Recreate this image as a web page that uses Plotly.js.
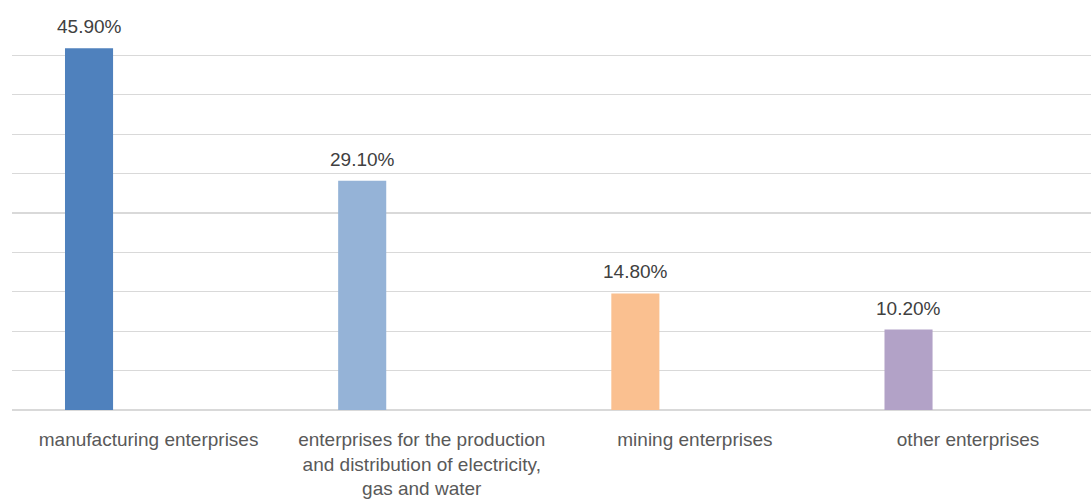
<!DOCTYPE html>
<html>
<head>
<meta charset="utf-8">
<script src="https://cdn.plot.ly/plotly-3.0.1.min.js"></script>
<style>html,body{margin:0;padding:0;background:#fff;}#chart{width:1091px;height:504px;}</style>
</head>
<body>
<div id="chart"></div>
<script>
const categories = [
  "manufacturing enterprises",
  "enterprises for the production<br>and distribution of electricity,<br>gas and water",
  "mining enterprises",
  "other enterprises"
];
const values = [45.9, 29.1, 14.8, 10.2];
const labels = ["45.90%", "29.10%", "14.80%", "10.20%"];
const colors = ["#4F81BD", "#95B3D7", "#FAC090", "#B2A2C7"];

const barWidth = 0.176;
const barShift = -0.218;

const trace = {
  type: "bar",
  x: categories,
  y: values,
  width: barWidth,
  offset: barShift - barWidth / 2,
  marker: {color: colors},
  hoverinfo: "none"
};

const annotations = values.map((v, i) => ({
  x: i + barShift,
  y: v,
  xref: "x",
  yref: "y",
  text: labels[i],
  showarrow: false,
  yanchor: "bottom",
  yshift: 9,
  font: {family: "Liberation Sans, Arial, sans-serif", size: 19, color: "#404040"}
}));

const layout = {
  width: 1091,
  height: 504,
  margin: {l: 12, r: 0, t: 16, b: 94},
  paper_bgcolor: "#ffffff",
  plot_bgcolor: "#ffffff",
  showlegend: false,
  xaxis: {
    type: "category",
    range: [-0.5, 3.45],
    showgrid: false,
    showline: false,
    zeroline: false,
    ticks: "outside",
    ticklen: 12,
    tickcolor: "rgba(0,0,0,0)",
    tickfont: {family: "Liberation Sans, Arial, sans-serif", size: 19, color: "#595959"}
  },
  yaxis: {
    range: [0, 50],
    dtick: 5,
    showticklabels: false,
    showgrid: true,
    gridcolor: "#d9d9d9",
    gridwidth: 1.3,
    zeroline: true,
    zerolinecolor: "#d9d9d9",
    zerolinewidth: 1.3,
    showline: false,
    ticks: ""
  },
  annotations: annotations
};

Plotly.newPlot("chart", [trace], layout, {staticPlot: true, displayModeBar: false});
</script>
</body>
</html>
